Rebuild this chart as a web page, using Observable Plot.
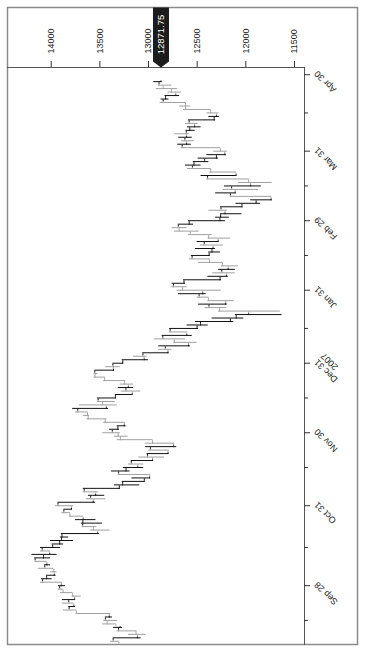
<!DOCTYPE html>
<html><head><meta charset="utf-8">
<script src="https://cdn.jsdelivr.net/npm/d3@7"></script>
<script src="https://cdn.jsdelivr.net/npm/@observablehq/plot@0.6"></script>
<style>
html,body{margin:0;padding:0;background:#fff;overflow:hidden;}
#wrap{position:absolute;left:0;top:0;width:655px;height:367px;transform-origin:0 0;transform:translate(0px,655px) rotate(-90deg);background:#fff;}
</style></head><body><div id="wrap"></div>
<script>
// Trading calendar (weekdays minus NYSE holidays), Sep 6 2007 .. Apr 30 2008
const holidays = ["2007-11-22","2007-12-25","2008-01-01","2008-01-21","2008-02-18","2008-03-21"];
const sessions = [];
for (let d = new Date(Date.UTC(2007,8,6)); d <= new Date(Date.UTC(2008,3,30)); d.setUTCDate(d.getUTCDate()+1)) {
  const wd = d.getUTCDay(), s = d.toISOString().slice(0,10);
  if (wd !== 0 && wd !== 6 && !holidays.includes(s)) sessions.push(s);
}

// Daily OHLC (Sep 6 2007 .. Apr 28 2008)
const opens = [
13305,13363,13113,13128,13308,13335,13425,13443,13403,13739,13816,13767,13820,13759,13779,13878,13913,
13896,14088,14047,13968,13974,14066,14044,14165,14079,14015,14093,13985,13913,13893,13889,13522,13567,13676,13675,13672,13807,13870,13792,
13930,13568,13595,13543,13661,13300,13266,13043,12988,13307,13231,13110,13177,12958,13010,12799,12981,12743,12958,13289,13312,
13372,13315,13249,13445,13620,13626,13727,13433,13474,13518,13340,13167,13232,13207,13246,13451,13549,13552,13360,13366,
13265,13044,13057,12800,12827,12589,12735,12853,12606,12778,12501,12466,12159,12099,11971,12270,12379,12207,12384,12480,12443,
12650,12743,12635,12265,12200,12247,12182,12240,12373,12552,12377,12348,12337,12427,12284,12381,12570,12685,12694,12582,
12266,12259,12214,12255,12040,11894,11740,12157,12110,12146,11951,11972,12393,12100,12361,12549,12533,12423,12302,12216,
12263,12654,12609,12626,12609,12612,12576,12527,12582,12325,12302,12362,12619,12620,12849,12825,12720,12763,12849,12892];
const highs = [
13390,13363,13205,13322,13360,13473,13460,13443,13745,13875,13820,13885,13885,13785,13905,13930,13925,
14110,14100,14047,14007,14133,14069,14165,14170,14198,14110,14110,13990,14007,13905,13895,13595,13680,13690,13750,13810,13890,13870,13955,
13930,13640,13617,13670,13670,13350,13270,13170,13310,13380,13258,13205,13177,13100,13015,13000,13030,13030,13322,13350,13470,
13400,13322,13460,13630,13670,13750,13780,13710,13525,13525,13340,13280,13310,13290,13460,13560,13560,13552,13440,13366,
13270,13155,13060,12895,12895,12740,12940,12860,12783,12783,12603,12517,12346,12107,12280,12420,12487,12390,12500,12692,12707,
12765,12757,12640,12390,12340,12280,12250,12487,12580,12560,12380,12517,12467,12500,12387,12590,12733,12757,12694,12590,
12310,12260,12380,12260,12100,11950,12160,12310,12230,12220,12075,12400,12460,12370,12600,12620,12540,12490,12400,12330,
12665,12700,12660,12690,12730,12615,12600,12620,12590,12380,12400,12640,12680,12880,12870,12830,12800,12920,12900,12946];
const lows = [
13300,13075,13025,13117,13267,13330,13320,13370,13390,13735,13750,13765,13755,13690,13775,13873,13853,
13887,13990,13950,13940,13973,14007,14040,14007,13940,14007,13905,13873,13770,13820,13505,13395,13530,13473,13540,13670,13800,13785,13770,
13545,13440,13450,13515,13290,13090,13040,12980,12980,13190,13050,13050,12950,12835,12790,12785,12710,12730,12955,13210,13290,
13300,13230,13235,13425,13605,13620,13410,13320,13340,13335,13165,13080,13155,13155,13235,13440,13520,13350,13290,13255,
13000,13015,12790,12760,12570,12500,12620,12550,12600,12487,12387,12124,12020,11627,11645,12200,12192,12117,12380,12408,12250,
12603,12620,12250,12180,12110,12107,12075,12235,12364,12364,12260,12312,12230,12278,12158,12346,12480,12603,12537,12210,
12170,12040,12190,12030,11850,11730,11735,12100,11870,11840,11730,11965,12095,12095,12355,12460,12380,12280,12200,12190,
12260,12560,12530,12550,12580,12520,12460,12490,12310,12270,12280,12355,12570,12615,12790,12680,12660,12700,12760,12860];
const closes = [
13363,13113,13128,13308,13292,13425,13443,13403,13739,13816,13767,13820,13759,13779,13878,13913,13896,
14088,14047,13968,13974,14066,14044,14165,14079,14015,14093,13985,13913,13893,13889,13522,13567,13676,13675,13672,13807,13870,13792,13930,
13568,13595,13543,13661,13300,13266,13043,12988,13307,13231,13110,13177,12958,13010,12799,12981,12743,12958,13289,13312,13372,
13315,13249,13445,13620,13626,13727,13433,13474,13518,13340,13167,13232,13207,13246,13451,13549,13552,13360,13366,13265,
13044,13057,12800,12827,12589,12735,12853,12606,12778,12501,12466,12159,12099,11971,12270,12379,12207,12384,12480,12443,12650,
12743,12635,12265,12200,12247,12182,12240,12373,12552,12377,12348,12337,12427,12284,12381,12570,12685,12694,12582,12266,
12259,12214,12255,12040,11894,11740,12157,12110,12146,11951,11972,12393,12100,12361,12549,12533,12423,12302,12216,12263,
12654,12609,12626,12609,12612,12576,12527,12582,12325,12302,12362,12619,12620,12849,12825,12720,12763,12849,12892,12871.75];

// Axis ticks
const majorTickDates = ["2007-09-28","2007-10-31","2007-11-30","2007-12-31","2008-01-31","2008-02-29","2008-03-31","2008-04-30"];
const majorTickLabels = ["Sep 28","Oct 31","Nov 30","Dec 31\n2007","Jan 31","Feb 29","Mar 31","Apr 30"];
const minorTickDates = ["2007-09-14","2007-10-15","2007-11-15","2007-12-14","2008-01-15","2008-02-14","2008-03-14","2008-04-15"];
const priceTicks = [11500, 12000, 12500, 13000, 13500, 14000];

const data = closes.map((c, i) => ({i, date: sessions[i], open: opens[i], high: highs[i], low: lows[i], close: c}));
const upBars = data.filter(d => d.close >= d.open);
const downBars = data.filter(d => d.close < d.open);
const majorIdx = majorTickDates.map(d => sessions.indexOf(d));
const labelOf = new Map(majorIdx.map((k, j) => [k, majorTickLabels[j]]));
const minorIdx = minorTickDates.map(d => sessions.indexOf(d));
const last = data[data.length - 1].close;

const UP = "#a0a0a0", DOWN = "#111";

const tagSymbol = {draw(ctx) {
  ctx.moveTo(0, 0); ctx.lineTo(6, -8); ctx.lineTo(60, -8); ctx.lineTo(60, 8); ctx.lineTo(6, 8); ctx.closePath();
}};

function ohlc(rows, color) {
  return [
    Plot.ruleX(rows, {x: "i", y1: "low", y2: "high", stroke: color, strokeWidth: 1}),
    Plot.ruleY(rows, {y: "open", x1: d => d.i - 0.5, x2: "i", stroke: color, strokeWidth: 1}),
    Plot.ruleY(rows, {y: "close", x1: "i", x2: d => d.i + 0.5, stroke: color, strokeWidth: 1})
  ];
}

const chart = Plot.plot({
  width: 655, height: 367,
  marginLeft: 10, marginRight: 68, marginTop: 7, marginBottom: 63,
  style: {fontFamily: "'Liberation Sans', Arial, sans-serif", fontSize: "9px", color: "#222", background: "white", overflow: "visible"},
  x: {type: "linear", domain: [-0.92, 165.07], label: null},
  y: {type: "linear", domain: [11397, 14449], label: null},
  marks: [
    Plot.frame({stroke: "#8a8a8a", strokeWidth: 1.5, insetRight: -60, insetBottom: -53}),
    ...ohlc(upBars, UP),
    ...ohlc(downBars, DOWN),
    Plot.frame({anchor: "right", stroke: "#555"}),
    Plot.frame({anchor: "bottom", stroke: "#555"}),
    Plot.axisY(priceTicks, {anchor: "right", label: null, tickSize: 6, tickPadding: 8, tickFormat: d => String(d), fontSize: 9, stroke: "#333", fill: "#222"}),
    Plot.axisX(minorIdx, {anchor: "bottom", label: null, tickSize: 4, tickFormat: () => null, stroke: "#333", fill: "none"}),
    Plot.axisX(majorIdx, {anchor: "bottom", label: null, tickSize: 6, tickPadding: 3, tickRotate: -45, textAnchor: "end", lineAnchor: "top", tickFormat: k => labelOf.get(k), fontSize: 9, stroke: "#333", fill: "#222"}),
    Plot.dot([last], {y: d => d, frameAnchor: "right", symbol: tagSymbol, fill: "#1c1c1c", stroke: "none"}),
    Plot.text([last], {y: d => d, frameAnchor: "right", dx: 33, text: d => d3.format(".2f")(d), fill: "white", textAnchor: "middle", fontSize: 9.5})
  ]
});
document.getElementById("wrap").appendChild(chart);
</script>
</body></html>
